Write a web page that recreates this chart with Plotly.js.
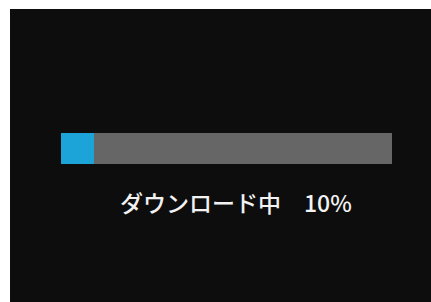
<!DOCTYPE html>
<html><head><meta charset="utf-8">
<script src="https://cdn.plot.ly/plotly-3.0.1.min.js"></script>
<style>html,body{margin:0;padding:0;background:#fff;}#c{width:431px;height:302px;}</style>
</head><body><div id="c"></div>
<script>
const categories = ['ダウンロード中'];
const progress = [10];
const total = [100];
const remaining = total.map((t, i) => t - progress[i]);

const traces = [
  {type:'bar', orientation:'h', y:[0], x:progress, marker:{color:'#1ca3d8'}, hoverinfo:'skip'},
  {type:'bar', orientation:'h', y:[0], x:remaining, marker:{color:'#666666'}, hoverinfo:'skip'}
];
const W = 431, H = 302, L = 61, R = 39, T = 133, B = 138;
const pw = W - L - R, ph = H - T - B;
const px = v => (v - L) / pw;
const py = v => (H - B - v) / ph;
const layout = {
  width: W, height: H,
  margin:{l:L, r:R, t:T, b:B, pad:0},
  paper_bgcolor:'#ffffff', plot_bgcolor:'#666666',
  barmode:'stack', bargap:0, showlegend:false,
  xaxis:{range:[0, total[0]], visible:false, fixedrange:true},
  yaxis:{range:[-0.5, 0.5], visible:false, fixedrange:true},
  shapes:[{type:'rect', xref:'paper', yref:'paper', x0:px(10), x1:px(432), y0:py(303), y1:py(9),
           fillcolor:'#0d0d0d', line:{width:0}, layer:'below'}],
  annotations:[{xref:'paper', yref:'paper', x:px(236), y:py(202), xanchor:'center', yanchor:'middle',
    text: categories[0] + '\u3000' + progress[0] + '%', showarrow:false,
    font:{family:'"Noto Sans CJK JP", sans-serif', size:23, weight:500, color:'#f2f2f2'}}]
};
Plotly.newPlot('c', traces, layout, {displayModeBar:false, staticPlot:true});
</script></body></html>
